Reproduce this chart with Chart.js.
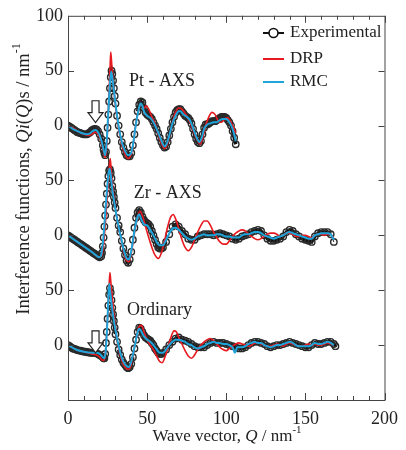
<!DOCTYPE html>
<html>
<head>
<meta charset="utf-8">
<script src="https://cdn.jsdelivr.net/npm/chart.js@4.4.1/dist/chart.umd.min.js"></script>
<style>
html, body { margin: 0; padding: 0; background: #fff; }
#c { display: block; }
</style>
</head>
<body>
<canvas id="c" width="406" height="450"></canvas>
<script>
// series / panels
var seriesNames = ["Experimental", "DRP", "RMC"];
var panelNames = ["Pt - AXS", "Zr - AXS", "Ordinary"];
var panelOffsets = [250, 150, 50];
var yTickLabels = ["", "0", "50", "0", "50", "0", "50", "100"];

// Pt - AXS
var qPtExp = [0,1,2,3,4,5,6,7,8,9,10,11,12,13,14,15,16,17,18,19,20,21,22,
  22.5,23,23.5,24,24.5,25,25.5,26,26.5,27,27.5,28,28.5,29,29.5,
  30,31,32,33,34,35,36,37,38,39,40,41,42,43,44,45,46,47,48,49,
  50,51,52,53,54,55,56,57,58,59,60,61,62,63,64,65,66,67,68,69,
  70,71,72,73,74,75,76,77,78,79,80,81,82,83,84,85,86,87,88,89,
  90,91,92,93,94,95,96,97,98,99,100,101,102,103,104,105,106];
var ptExp = [0,-1,-2,-3,-4,-5,-6,-6.5,-7,-7.5,-8,-8,-8,-7,-6,-4.5,-3.5,-3,-3.5,-5,-8,-12,-18,
  -22,-25,-27,-24,-14,-2,10,22,34,44,50,47,41,34,27,
  20,9,0,-8,-15,-20,-24,-27,-28,-28,-25,-18,-8,3,13,19,22,21,16,12,
  10,9,8,6,3,0,-3,-7,-11,-15,-18,-20,-19,-15,-9,-3,3,8,12,14,
  15,15,13,11,9,8,7,5,2,-3,-8,-12,-15,-16,-14,-8,-2,1,1,2,
  3,4,4,4,5,6,7,8,8,8,7,5,3,0,-5,-11,-17];
var qPtDrp = [0,3,6,10,13,15,17,19,21,22.5,23.5,24.5,25.5,26.5,27,27.7,28.5,30,32,34,36,38,39.5,41,43,45,46.5,48,49.5,51,53,55,57,59,61,62.5,64,66,68,70,72,74,76,78,80,82,83.5,85,87,89,91,93,95,97,99,101,103,105,106];
var ptDrp = [0,-2,-5,-8,-9,-8,-6,-8,-15,-24,-29,-18,15,50,67,55,40,18,-3,-17,-26,-30,-28,-19,3,17,19,16,18,15,8,2,-8,-16,-21,-18,-10,3,12,16,15,11,6,0,-8,-14,-17,-12,0,8,12,10,4,3,6,7,3,-3,-7];
var qPtRmc = [0,3,6,9,12,14,16,17.5,19,21,22.5,23.5,24.5,25.5,26.5,27.3,28,29,30,32,34,36,38,39.5,41,43,45,46,47,48,50,52,54,56,58,60,61,62.5,64,66,68,70,71,73,75,77,79,81,83,84.5,86,88,90,92,94,96,98,100,102,104,106];
var ptRmc = [0,-3,-5,-7,-8,-7,-4.5,-4,-6,-13,-22,-27,-13,13,38,49,44,32,20,-1,-15,-23,-27,-26,-18,2,17,20,18,13,9,7,3,-3,-10,-17,-19,-16,-9,2,9,13,13,10,8,5,-2,-10,-15,-11,-3,1,2,3,3,5,6,6,3,-3,-14];

// Zr - AXS
var qZrExp = [0,1,2,3,4,5,6,7,8,9,10,11,12,13,14,15,16,17,18,19,20,21,
  21.5,22,22.5,23,23.5,24,24.5,25,25.5,26,26.5,27,27.5,28,28.5,29,29.5,
  30,31,32,33,34,35,36,37,38,39,40,41,42,43,44,45,46,47,48,49,
  50,51,52,53,54,55,56,57,58,59,60,
  62,64,66,68,70,72,74,76,78,80,82,84,86,88,90,92,94,96,98,100,
  102,104,106,108,110,112,114,116,118,120,122,124,126,128,130,132,134,136,138,140,
  142,144,146,148,150,152,154,156,158,160,162,164,166,168];
var zrExp = [0,-1,-2,-3,-4,-5,-6,-7,-8,-9,-10,-11,-12,-13,-14,-15,-16,-17,-18,-19,-20,-19,
  -16,-10,-2,8,18,28,38,47,54,59,60,57,52,45,40,35,30,
  25,16,9,3,-5,-12,-18,-23,-25,-22,-15,-4,7,16,21,23,21,17,14,12,
  11,10,8,4,0,-4,-8,-11,-12,-12,-11,
  -6,1,8,10,8,4,1,-3,-4,-4,-1,0,1,1,1,0,1,2,1,0,
  -1,-3,-4,-3,-1,0,1,3,4,5,4,0,-3,-5,-5,-4,-3,-1,3,5,
  4,1,-1,-3,-4,-5,-6,-1,2,3,3,3,1,-6];
var qZrDrp = [0,5,10,15,20,21.5,23,24.5,26,26.7,27.5,29,31,33,35,37,38.5,40,42,44,45.5,47,49,51,53,55,57,59,61,63,65,66.5,68,70,72,74,76,78,80,82,84,86,88,90,92,94,96,98,100,102,104,106,108,110,112,114,116,118,120,122,124,126,128,130,132,134,136,138,140,142,144,146,148,150,152,154,156,158,160,162,164,166,168];
var zrDrp = [0,-5,-10,-15,-20,-18,0,30,60,70,55,35,15,0,-14,-23,-24,-16,2,17,22,18,8,-2,-11,-18,-21,-16,-5,8,17,19,15,6,-4,-11,-14,-11,-4,3,9,13,13,9,3,-2,-6,-8,-8,-5,-1,2,4,5,4,1,-1,-3,-4,-3,-1,1,2,2,1,-1,0,2,2,1,-1,-1,0,0,-1,-2,0,1,1,0,1,1,-3];
var qZrRmc = [0,5,10,15,20,21,22.5,24,25.5,26.3,27,28,29.5,31,33,35,37,38.5,40,42,44,45,46.5,48,50,52,54,56,58,60,62,64,66,68,70,72,74,76,78,80,82,84,86,88,90,92,94,96,98,100,102,104,106,108,110,112,114,116,118,120,122,124,126,128,130,132,134,136,138,140,142,144,146,148,150,152,154,156,158,160,162,164,166,168];
var zrRmc = [0,-5,-10,-15,-20,-18,0,30,55,61,55,42,28,15,1,-12,-21,-22,-14,4,17,19,14,10,9,5,0,-6,-9,-9,-4,2,6,7,5,2,-1,-3,-4,-3,-1,0,1,0,0,0,1,1,0,-1,-1,-2,-2,-2,0,1,1,2,3,3,2,0,-1,-2,-3,-2,-1,0,2,3,2,1,0,-1,-2,-3,-3,0,1,2,2,2,1,-4];

// Ordinary
var qOrdExp = [0,1,2,3,4,5,6,7,8,9,10,11,12,13,14,15,16,17,18,19,20,21,22,
  22.5,23,23.5,24,24.5,25,25.5,26,26.5,27,27.5,28,28.5,29,29.5,
  30,31,32,33,34,35,36,37,38,39,40,41,42,43,44,45,46,47,48,49,
  50,51,52,53,54,55,56,57,58,59,60,
  62,64,66,68,70,72,74,76,78,80,82,84,86,88,90,92,94,96,98,100,
  102,104,106,108,110,112,114,116,118,120,122,124,126,128,130,132,134,136,138,140,
  142,144,146,148,150,152,154,156,158,160,162,164,166,168,169];
var ordExp = [0,-1,-2,-3,-3.5,-4,-4.5,-5,-5,-5.5,-6,-6,-6.5,-6.5,-7,-7,-7,-7,-7.5,-8,-9,-10,-11,
  -12,-12,-8,2,12,24,36,46,52,48,41,34,28,22,16,
  10,3,-4,-9,-13,-16,-18,-20,-21,-20,-17,-11,-3,5,12,16,15,12,9,7,
  6,5,4,2,0,-3,-5,-7,-8,-8,-7,
  -4,0,3,6,7,5,4,3,1,-1,-2,-2,-2,0,2,3,2,2,2,1,
  0,-1,-2,-3,-3,-2,0,2,3,3,2,1,-1,-2,-1,0,0,1,2,3,
  2,1,0,-1,-2,-2,0,2,1,1,2,3,3,1,-1];
var qOrdDrp = [0,5,10,15,18,20,22,23,24,25,26,26.5,27.2,28.5,30,32,34,36,38,39.5,41,43,45,46.5,48,50,52,54,56,58,59.5,61,63,65,67,68.5,70,72,74,76,78,80,82,84,86,88,90,92,94,96,98,100,102,104,106,108,110,112,114,116,118,120,122,124,126,128,130,132,134,136,138,140,142,144,146,148,150,152,154,156,158,160,162,164,166,168];
var ordDrp = [0,-4,-6,-8,-9,-11,-14,-13,0,25,55,66,55,35,15,-3,-14,-20,-22,-20,-10,6,17,18,12,5,0,-4,-10,-15,-16,-12,-3,7,13,12,7,1,-5,-10,-12,-9,-4,0,3,5,6,4,1,-2,-4,-5,-3,-1,1,2,1,0,-1,0,2,2,1,0,-1,-1,0,1,0,-1,1,2,1,0,-1,-1,0,1,0,1,0,0,1,2,1,0];
var qOrdRmc = [0,5,10,15,18,20,22,23,24,25,26,26.7,27.5,29,31,33,35,37,38.5,40,42,44,45,46.5,48,50,52,54,56,58,60,62,64,66,68,70,72,74,76,78,80,82,84,86,88,90,92,94,96,98,100,102,104,105.5,107,108,110,112,114,116,118,120,122,124,126,128,130,132,134,136,138,140,142,144,146,148,150,152,154,156,158,160,162,164,166,168];
var ordRmc = [0,-4,-6,-7,-7,-8,-11,-12,-2,25,56,48,38,22,6,-7,-15,-19,-20,-15,-2,12,15,12,8,5,3,0,-4,-7,-7,-4,0,3,5,5,4,3,1,0,-2,-3,-2,-1,1,2,3,2,2,1,1,0,-2,-7,-2,-2,-2,-1,1,2,3,2,2,0,-1,-2,-1,0,0,1,2,3,2,0,-1,-1,-1,-1,0,2,1,1,2,3,2,0];

// annotation anchors (data units)
var panelLabelAt = [[38.5, 290.5], [41.5, 188], [37.3, 82]];
var arrowsAt = [[17.4, 272.6, 252.7], [17.4, 63, 43]];

var SERIF = "'Liberation Serif', 'Times New Roman', serif";
var colExp = '#111111', colDrp = '#e8191f', colRmc = '#1ea5dc';

function pts(q, v, off) {
    return q.map(function(x, i) { return { x: x, y: v[i] + off }; });
}

var panels = [
    [qPtExp, ptExp, qPtDrp, ptDrp, qPtRmc, ptRmc],
    [qZrExp, zrExp, qZrDrp, zrDrp, qZrRmc, zrRmc],
    [qOrdExp, ordExp, qOrdDrp, ordDrp, qOrdRmc, ordRmc]
];

// thick band where the open circles pile up, thin line on the steep jumps
function expSegWidth(c) {
    return Math.abs(c.p1.y - c.p0.y) > 7 ? 1 : 3.5;
}

var datasets = [];
panels.forEach(function(p, k) {
    var off = panelOffsets[k];
    datasets.push({
        label: seriesNames[0], data: pts(p[0], p[1], off), showLine: true, order: 3,
        borderColor: colExp, borderWidth: 3.5, segment: { borderWidth: expSegWidth },
        pointRadius: 3.2, pointBorderWidth: 1.4,
        pointBorderColor: '#2a2a2a', pointBackgroundColor: 'rgba(255,255,255,0)'
    });
    datasets.push({
        label: seriesNames[1], data: pts(p[2], p[3], off), showLine: true, order: 2,
        borderColor: colDrp, borderWidth: 1.6, pointRadius: 0, cubicInterpolationMode: 'monotone'
    });
    datasets.push({
        label: seriesNames[2], data: pts(p[4], p[5], off), showLine: true, order: 1,
        borderColor: colRmc, borderWidth: 2, pointRadius: 0, cubicInterpolationMode: 'monotone'
    });
});

// text with italic / superscript pieces, centred on x
function richText(ctx, parts, x, y, size) {
    var w = 0;
    parts.forEach(function(p) {
        ctx.font = (p.it ? 'italic ' : '') + (p.sup ? Math.round(size * 0.65) : size) + 'px ' + SERIF;
        p.w = ctx.measureText(p.t).width;
        w += p.w;
    });
    var cx = x - w / 2;
    parts.forEach(function(p) {
        ctx.font = (p.it ? 'italic ' : '') + (p.sup ? Math.round(size * 0.65) : size) + 'px ' + SERIF;
        ctx.fillText(p.t, cx, p.sup ? y - size * 0.4 : y);
        cx += p.w;
    });
}

function drawArrow(ctx, x, yTop, yTip) {
    var sw = 3.5, hw = 7.5, hl = 10;
    ctx.beginPath();
    ctx.moveTo(x - sw, yTop);
    ctx.lineTo(x + sw, yTop);
    ctx.lineTo(x + sw, yTip - hl);
    ctx.lineTo(x + hw, yTip - hl);
    ctx.lineTo(x, yTip);
    ctx.lineTo(x - hw, yTip - hl);
    ctx.lineTo(x - sw, yTip - hl);
    ctx.closePath();
    ctx.fillStyle = '#fff';
    ctx.fill();
    ctx.lineWidth = 1.2;
    ctx.strokeStyle = '#222';
    ctx.stroke();
}

var decor = {
    id: 'decor',
    afterDraw: function(chart) {
        var ctx = chart.ctx, a = chart.chartArea;
        var xs = chart.scales.x, ys = chart.scales.y;
        ctx.save();

        // frame + inward ticks
        ctx.strokeStyle = '#444';
        ctx.lineWidth = 1;
        ctx.strokeRect(a.left + 0.5, a.top + 0.5, a.right - a.left, a.bottom - a.top);
        ctx.beginPath();
        for (var q = 0; q <= 200; q += 10) {
            var px = Math.round(xs.getPixelForValue(q)) + 0.5;
            var len = q % 50 === 0 ? 7 : 4;
            ctx.moveTo(px, a.bottom); ctx.lineTo(px, a.bottom - len);
            ctx.moveTo(px, a.top); ctx.lineTo(px, a.top + len);
        }
        for (var v = 50; v < 350; v += 50) {
            var py = Math.round(ys.getPixelForValue(v)) + 0.5;
            ctx.moveTo(a.left, py); ctx.lineTo(a.left + 6, py);
            ctx.moveTo(a.right, py); ctx.lineTo(a.right - 6, py);
        }
        ctx.stroke();

        // arrows
        arrowsAt.forEach(function(r) {
            drawArrow(ctx, xs.getPixelForValue(r[0]), ys.getPixelForValue(r[1]), ys.getPixelForValue(r[2]));
        });

        // panel labels
        ctx.fillStyle = '#222';
        ctx.textBaseline = 'middle';
        ctx.textAlign = 'left';
        ctx.font = '18px ' + SERIF;
        panelNames.forEach(function(n, k) {
            ctx.fillText(n, xs.getPixelForValue(panelLabelAt[k][0]), ys.getPixelForValue(panelLabelAt[k][1]));
        });

        // legend
        var lx = 263, ly = [33, 59, 82], lcol = [colExp, colDrp, colRmc];
        seriesNames.forEach(function(n, k) {
            ctx.strokeStyle = lcol[k];
            ctx.lineWidth = 2;
            ctx.beginPath();
            ctx.moveTo(lx, ly[k]); ctx.lineTo(lx + 21, ly[k]);
            ctx.stroke();
            if (k === 0) {
                ctx.beginPath();
                ctx.arc(lx + 10.5, ly[k], 4.5, 0, Math.PI * 2);
                ctx.fillStyle = '#fff';
                ctx.fill();
                ctx.lineWidth = 1.6;
                ctx.stroke();
            }
            ctx.fillStyle = '#222';
            ctx.font = '17px ' + SERIF;
            ctx.fillText(n, lx + 27, ly[k]);
        });

        // axis titles
        ctx.fillStyle = '#222';
        richText(ctx, [{ t: 'Wave vector, ' }, { t: 'Q', it: true }, { t: ' / nm' }, { t: '-1', sup: true }], 227, 437, 17);
        ctx.translate(24, 179);
        ctx.rotate(-Math.PI / 2);
        richText(ctx, [{ t: 'Interference functions, ' }, { t: 'Qi', it: true }, { t: '(' }, { t: 'Q', it: true },
            { t: ')s / nm' }, { t: '-1', sup: true }], 0, 0, 18.5);
        ctx.restore();
    }
};

new Chart(document.getElementById('c'), {
    type: 'scatter',
    data: { datasets: datasets },
    options: {
        responsive: false,
        animation: false,
        layout: { padding: { top: 12, right: 15, left: 0, bottom: 0 } },
        plugins: { legend: { display: false }, tooltip: { enabled: false } },
        scales: {
            x: {
                type: 'linear', min: 0, max: 200,
                afterFit: function(s) { s.height = 50; },
                grid: { display: false, drawTicks: false },
                border: { display: false },
                ticks: { stepSize: 50, padding: 8, maxRotation: 0, color: '#222', font: { family: SERIF, size: 18 } }
            },
            y: {
                min: 0, max: 350,
                afterFit: function(s) { s.width = 68; },
                grid: { display: false, drawTicks: false },
                border: { display: false },
                ticks: {
                    stepSize: 50, padding: 5, color: '#222', font: { family: SERIF, size: 18 },
                    callback: function(v) { return yTickLabels[Math.round(v / 50)]; }
                }
            }
        }
    },
    plugins: [decor]
});
</script>
</body>
</html>
